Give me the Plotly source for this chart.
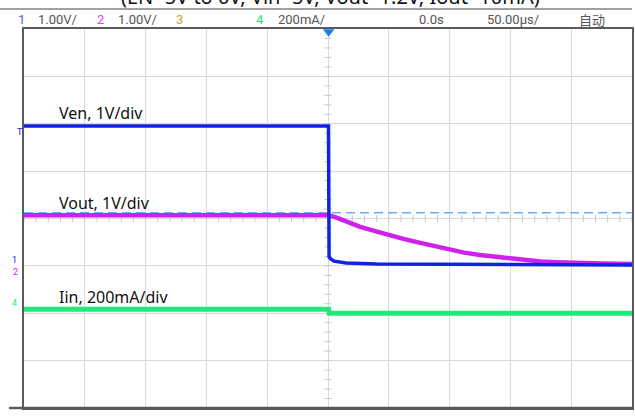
import plotly.graph_objects as go
import numpy as np

# ---------------- data ----------------
# channel 1: Ven (V), 1 V/div
t_ven = [-250, 0.4, 0.9, 2, 5, 15, 40, 100, 250]
ven = [2.92, 2.92, 0.16, 0.12, 0.07, 0.03, 0.01, 0.0, -0.01]
# channel 2: Vout (V), 1 V/div
t_vout = [-250, 0, 6, 12, 19, 26, 38, 50, 62, 75, 88, 100, 112, 125, 138, 150, 162, 175, 188,
          200, 225, 250]
vout = [1.04, 1.04, 1.00, 0.94, 0.87, 0.80, 0.71, 0.62, 0.54, 0.46, 0.38, 0.31, 0.25, 0.20,
        0.16, 0.12, 0.09, 0.06, 0.045, 0.03, 0.02, 0.01]
# channel 4: Iin (mA), 200 mA/div
t_iin = [-250, 0.5, 1.0, 250]
iin = [-19, -19, -36, -36]
vout_ref_level = 1.09   # dashed reference line (V, ch2)

# channel settings: ground position (div from centre) and scale per div
ch1_offset, ch1_scale = -0.97, 1.0
ch2_offset, ch2_scale = -0.97, 1.0
ch4_offset, ch4_scale = -1.82, 200.0

title_text = "(EN=5V to 0V, Vin=5V, Vout=1.2V, Iout=10mA)"
labels = ["Ven, 1V/div", "Vout, 1V/div", "Iin, 200mA/div"]

# ---------------- layout geometry (pixels) ----------------
W, H = 635, 416
L, R, T, B = 24, 632, 29, 408


def px(x):
    return (x - L) / (R - L)


def py(y):
    return (B - y) / (B - T)


BLUE = "#0f22e6"
MAG = "#d020ec"
GREEN = "#22e87a"
DASH = "#6aaaf8"
GRID = "#d9d9d9"
BORDER = "#5a5a5a"

fig = go.Figure()

# centre-line minor ticks
xt = np.arange(-250, 251, 10)
fig.add_trace(go.Scatter(x=xt, y=[0] * len(xt), mode="markers",
                         marker=dict(symbol="line-ns", size=5, line=dict(color="#c8c8c8", width=1)),
                         hoverinfo="skip", showlegend=False))
yt = np.arange(-4, 4.001, 0.2)
fig.add_trace(go.Scatter(x=[0] * len(yt), y=yt, mode="markers",
                         marker=dict(symbol="line-ew", size=5, line=dict(color="#c8c8c8", width=1)),
                         hoverinfo="skip", showlegend=False))

# dashed reference line
ref_y = ch2_offset + vout_ref_level / ch2_scale
fig.add_trace(go.Scatter(x=[-250, 250], y=[ref_y, ref_y], mode="lines",
                         line=dict(color=DASH, width=1.5, dash="9px,5px"),
                         hoverinfo="skip", showlegend=False))

# traces
fig.add_trace(go.Scatter(x=t_iin, y=[ch4_offset + v / ch4_scale for v in iin], mode="lines",
                         line=dict(color=GREEN, width=5), showlegend=False))
fig.add_trace(go.Scatter(x=t_vout, y=[ch2_offset + v / ch2_scale for v in vout], mode="lines",
                         line=dict(color=MAG, width=4.5), showlegend=False))
fig.add_trace(go.Scatter(x=t_ven, y=[ch1_offset + v / ch1_scale for v in ven], mode="lines",
                         line=dict(color=BLUE, width=3.5), showlegend=False))

annotations = []
# trace labels
for text, yy in zip(labels, [113, 203, 297]):
    annotations.append(dict(x=px(57), y=py(yy), xref="paper", yref="paper", text=text,
                            showarrow=False, xanchor="left", yanchor="middle",
                            font=dict(family="Noto Sans", size=16, color="#111")))

# title (cut off at the top of the frame)
annotations.append(dict(x=px(330), y=py(12), xref="paper", yref="paper", text=title_text,
                        showarrow=False, xanchor="center", yanchor="bottom",
                        font=dict(family="Noto Sans", size=20, color="#111")))

# header line of the scope
hdr = [("1", 16, "#4a5ef0"), ("1.00V/", 36, "#555"), ("2", 95, "#e040ff"),
       ("1.00V/", 116, "#555"), ("3", 174, "#d0a040"), ("4", 254, "#30e070"),
       ("200mA/", 276, "#555"), ("0.0s", 417, "#555"), ("50.00µs/", 485, "#555"),
       ("自动", 577, "#555")]
for text, xx, col in hdr:
    fam = "Noto Sans CJK SC" if text == "自动" else "Liberation Sans Narrow, Roboto"
    annotations.append(dict(x=px(xx), y=py(19), xref="paper", yref="paper", text=text,
                            showarrow=False, xanchor="left", yanchor="middle",
                            font=dict(family=fam, size=13, color=col)))

# left-side channel markers
for text, xx, yy, col in [("T", 20, 132, BLUE), ("1", 14, 260, BLUE), ("2", 15, 272, MAG),
                          ("4", 14, 303, GREEN)]:
    annotations.append(dict(x=px(xx), y=py(yy), xref="paper", yref="paper", text=text,
                            showarrow=False, xanchor="center", yanchor="middle",
                            font=dict(family="Roboto", size=9, color=col)))

shapes = [
    dict(type="line", xref="paper", yref="paper", x0=px(0), x1=px(632), y0=py(9), y1=py(9),
         line=dict(color="#444", width=1.2)),
    dict(type="line", xref="paper", yref="paper", x0=px(9), x1=px(632), y0=py(408), y1=py(408),
         line=dict(color=BORDER, width=2.5)),
]

fig.update_layout(
    width=W, height=H,
    margin=dict(l=L, r=W - R, t=T, b=H - B, autoexpand=False),
    paper_bgcolor="white", plot_bgcolor="white",
    annotations=annotations, shapes=shapes,
    xaxis=dict(range=[-250, 250], dtick=50, tick0=-250, showgrid=True, gridcolor=GRID, gridwidth=1,
               showticklabels=False, ticks="", zeroline=False,
               showline=True, mirror=True, linecolor=BORDER, linewidth=2),
    yaxis=dict(range=[-4, 4], dtick=1, tick0=-4, showgrid=True, gridcolor=GRID, gridwidth=1,
               showticklabels=False, ticks="", zeroline=False,
               showline=True, mirror=True, linecolor=BORDER, linewidth=2),
)

# side markers (triangles) and trigger marker
fig.add_trace(go.Scatter(x=[-252.5] * 3,
                         y=[ch1_offset + 2.46, ch1_offset, ch4_offset],
                         mode="markers", cliponaxis=False,
                         marker=dict(symbol="triangle-right", size=6, color=[BLUE, BLUE, GREEN]),
                         hoverinfo="skip", showlegend=False))
fig.add_trace(go.Scatter(x=[0.5], y=[4 - 0.06], mode="markers", cliponaxis=False,
                         marker=dict(symbol="triangle-down", size=10, color="#1e7cf0"),
                         hoverinfo="skip", showlegend=False))

fig.write_html("out.html", config={"displayModeBar": False},
               post_script="document.body.style.margin='0px';document.body.style.overflow='hidden';")
